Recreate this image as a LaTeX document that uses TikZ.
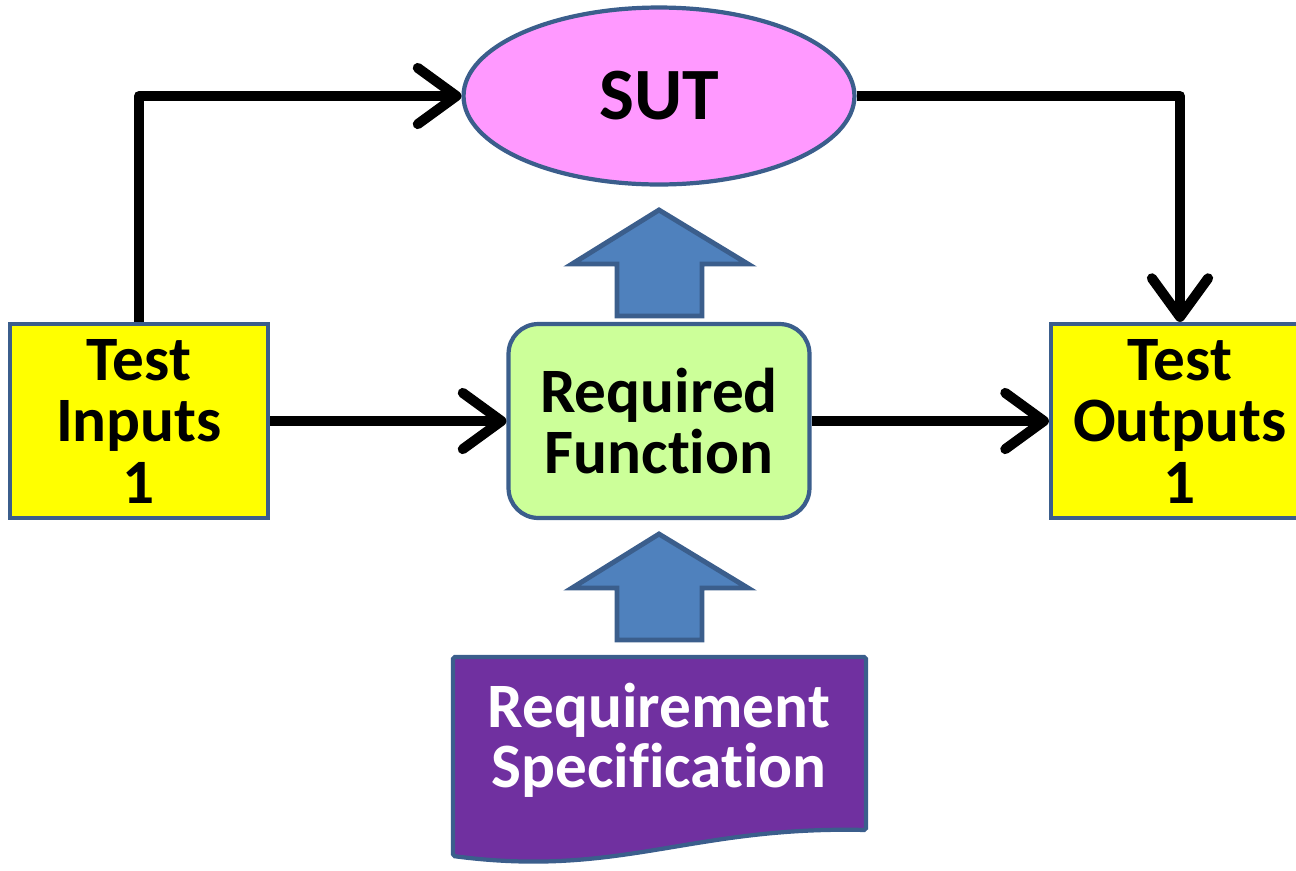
\documentclass[tikz,border=0pt]{standalone}
\usepackage{fontspec}
\setmainfont{Carlito}[Ligatures={NoCommon,NoContextual}]
\usetikzlibrary{positioning,shapes,arrows.meta}
\definecolor{edge}{HTML}{3B5E8C}
\definecolor{boxyellow}{HTML}{FFFF00}
\definecolor{sutpink}{HTML}{FF99FF}
\definecolor{reqgreen}{HTML}{CCFF99}
\definecolor{specpurple}{HTML}{7030A0}
\definecolor{blockblue}{HTML}{4F81BD}

\begin{document}
\begin{tikzpicture}[x=0.02cm,y=-0.02cm,
  testbox/.style={draw=edge,line width=2.4pt,fill=boxyellow,minimum width=5.16cm,minimum height=3.88cm,align=center,font=\fontsize{36}{35}\selectfont\bfseries},
  flow/.style={line width=5.7pt,line join=round,-{Straight Barb[length=22pt,width=32pt,round]}},
  blockarrow/.style={draw=edge,line width=2.8pt,fill=blockblue}]
\useasboundingbox (0,0) rectangle (1296,870);
\node[testbox] (in) at (139,421) {Test\\Inputs\\1};
\node[testbox] (out) at (1180,421) {Test\\Outputs\\1};
\node[draw=edge,line width=2.4pt,fill=reqgreen,rounded corners=17pt,minimum width=6.02cm,minimum height=3.88cm,align=center,font=\fontsize{36}{35}\selectfont\bfseries] (req) at (659,421) {Required\\Function};
\node[ellipse,draw=edge,line width=2.4pt,fill=sutpink,minimum width=7.82cm,minimum height=3.54cm,font=\fontsize{42}{42}\selectfont\bfseries] (sut) at (659,96) {SUT};
% document shape with wavy bottom
\draw[draw=edge,line width=2.4pt,fill=specpurple,rounded corners=1pt] (453,657) -- (866,657) -- (866,830) .. controls (690,826) and (620,878) .. (453,856) -- cycle;
\node[text=white,align=center,font=\fontsize{36}{34}\selectfont\bfseries] (spec) at (659,740) {Requirement\\Specification};
% block arrows
\draw[blockarrow] (659,210) -- (748,264) -- (702,264) -- (702,316) -- (617,316) -- (617,264) -- (572,264) -- cycle;
\draw[blockarrow] (659,534) -- (748,588) -- (702,588) -- (702,640) -- (617,640) -- (617,588) -- (572,588) -- cycle;
% connectors
\draw[flow] (in.north) |- (sut.west);
\draw[flow] (sut.east) -| (out.north);
\draw[flow] (in.east) -- (req.west);
\draw[flow] (req.east) -- (out.west);
\end{tikzpicture}
\end{document}
